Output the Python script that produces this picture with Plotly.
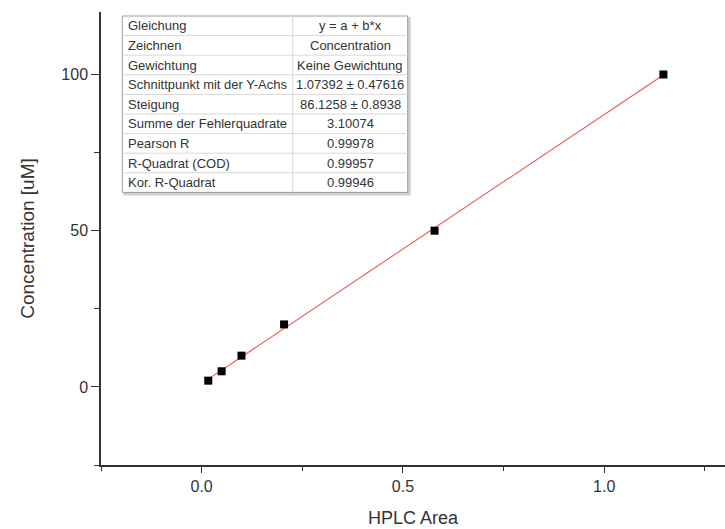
import plotly.graph_objects as go

# ---- data ----
hplc_area = [0.0164, 0.0496, 0.099, 0.2048, 0.5785, 1.147]
concentration = [2, 5, 10, 20, 50, 100]

fit_intercept = 1.07392
fit_slope = 86.1258

table_labels = ["Gleichung", "Zeichnen", "Gewichtung", "Schnittpunkt mit der Y-Achs",
                "Steigung", "Summe der Fehlerquadrate", "Pearson R",
                "R-Quadrat (COD)", "Kor. R-Quadrat"]
table_values = ["y = a + b*x", "Concentration", "Keine Gewichtung",
                "1.07392 ± 0.47616", "86.1258 ± 0.8938", "3.10074",
                "0.99978", "0.99957", "0.99946"]

x_ticks = [0.0, 0.5, 1.0]
x_tick_labels = ["0.0", "0.5", "1.0"]
y_ticks = [0, 50, 100]
y_tick_labels = ["0", "50", "100"]

# ---- layout constants ----
W, H = 725, 529
ML, MR, MT, MB = 101, 0, 12, 64
PW, PH = W - ML - MR, H - MT - MB
FONT = "Arial, Liberation Sans, sans-serif"


def px_x(p):
    return (p - ML) / PW


def px_y(p):
    return (H - MB - p) / PH


fit_x = [min(hplc_area), max(hplc_area)]
fit_y = [fit_intercept + fit_slope * v for v in fit_x]

fig = go.Figure()
fig.add_trace(go.Scatter(x=fit_x, y=fit_y, mode="lines",
                         line=dict(color="#f05454", width=1.1),
                         showlegend=False, hoverinfo="skip"))
fig.add_trace(go.Scatter(x=hplc_area, y=concentration, mode="markers",
                         marker=dict(symbol="square", color="black", size=8,
                                     line=dict(width=0)),
                         showlegend=False))

# ---- table drawn with shapes + annotations ----
tbl_left, tbl_right, tbl_top, row_h = 122.3, 407.7, 16.0, 19.6
col_split = 292.7
n_rows = len(table_labels)
tbl_bottom = tbl_top + n_rows * row_h

shapes = []
# shadow
shapes.append(dict(type="rect", xref="paper", yref="paper",
                   x0=px_x(tbl_left + 2), x1=px_x(tbl_right + 2),
                   y0=px_y(tbl_bottom + 2), y1=px_y(tbl_top + 2),
                   line=dict(color="#cfcfcf", width=2), fillcolor="#cfcfcf",
                   layer="above"))
shapes.append(dict(type="rect", xref="paper", yref="paper",
                   x0=px_x(tbl_left), x1=px_x(tbl_right),
                   y0=px_y(tbl_bottom), y1=px_y(tbl_top),
                   line=dict(color="#9a9a9a", width=1), fillcolor="white",
                   layer="above"))
for i in range(1, n_rows):
    yy = px_y(tbl_top + i * row_h)
    shapes.append(dict(type="line", xref="paper", yref="paper",
                       x0=px_x(tbl_left), x1=px_x(tbl_right), y0=yy, y1=yy,
                       line=dict(color="#d8d8d8", width=1), layer="above"))
shapes.append(dict(type="line", xref="paper", yref="paper",
                   x0=px_x(col_split), x1=px_x(col_split),
                   y0=px_y(tbl_bottom), y1=px_y(tbl_top),
                   line=dict(color="#d8d8d8", width=1), layer="above"))

annotations = []
for i, (lab, val) in enumerate(zip(table_labels, table_values)):
    yc = px_y(tbl_top + (i + 0.5) * row_h)
    annotations.append(dict(x=px_x(tbl_left + 4), y=yc, xref="paper", yref="paper",
                            text=lab, showarrow=False, xanchor="left",
                            yanchor="middle",
                            font=dict(family=FONT, size=13, color="#333333")))
    annotations.append(dict(x=px_x((col_split + tbl_right) / 2), y=yc,
                            xref="paper", yref="paper",
                            text=val, showarrow=False, xanchor="center",
                            yanchor="middle",
                            font=dict(family=FONT, size=13, color="#333333")))

axis_common = dict(showline=True, linecolor="#333333", linewidth=1.5,
                   ticks="outside", tickcolor="#333333", tickwidth=1.3,
                   showgrid=False, zeroline=False, mirror=False,
                   tickfont=dict(family=FONT, size=16, color="#333333"))

fig.update_xaxes(range=[-0.25, 1.3], tickmode="array", tickvals=x_ticks,
                 ticktext=x_tick_labels, ticklen=6,
                 minor=dict(tickmode="array", tickvals=[-0.25, 0.25, 0.75, 1.25],
                            ticks="outside", ticklen=4, tickcolor="#333333",
                            tickwidth=1.3, showgrid=False),
                 title=dict(text="HPLC Area", standoff=17,
                            font=dict(family=FONT, size=18, color="#333333")),
                 **axis_common)
fig.update_yaxes(range=[-25, 120], tickmode="array", tickvals=y_ticks,
                 ticktext=y_tick_labels, ticklen=8,
                 minor=dict(tickmode="array", tickvals=[-25, 25, 75],
                            ticks="outside", ticklen=5, tickcolor="#333333",
                            tickwidth=1.3, showgrid=False),
                 title=dict(text="Concentration [uM]", standoff=22,
                            font=dict(family=FONT, size=19, color="#333333")),
                 **axis_common)

fig.update_layout(width=W, height=H,
                  margin=dict(l=ML, r=MR, t=MT, b=MB, autoexpand=False),
                  paper_bgcolor="white", plot_bgcolor="white",
                  font=dict(family=FONT), showlegend=False,
                  shapes=shapes, annotations=annotations)

fig.write_html("out.html")
